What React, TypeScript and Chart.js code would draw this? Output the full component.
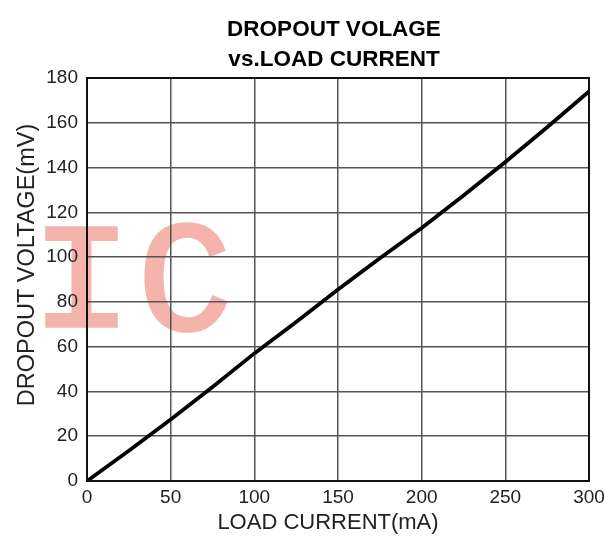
import React, { useEffect, useRef } from "react";
import { Chart, registerables } from "chart.js";

Chart.register(...registerables);

const TITLE_LINES = ["DROPOUT VOLAGE", "vs.LOAD CURRENT"];
const X_TITLE = "LOAD CURRENT(mA)";
const Y_TITLE = "DROPOUT VOLTAGE(mV)";
const WATERMARK_LETTERS = ["I", "C"];

const loadCurrent = [0, 25, 50, 75, 100, 125, 150, 175, 200, 225, 250, 275, 300];
const dropoutVoltage = [0, 13.5, 27.5, 42, 57, 71, 85.5, 99.5, 113, 127.5, 142.5, 158, 174];

const X_MIN = 0;
const X_MAX = 300;
const X_STEP = 50;
const Y_MIN = 0;
const Y_MAX = 180;
const Y_STEP = 20;

const FONT = "'Liberation Sans', Arial, sans-serif";

export default function App() {
  const ref = useRef<HTMLCanvasElement | null>(null);

  useEffect(() => {
    if (!ref.current) return;

    const decor = {
      id: "decor",
      beforeDraw(chart: any) {
        const ctx = chart.ctx;
        ctx.save();
        ctx.fillStyle = "#f4b3ab";
        ctx.strokeStyle = "#f4b3ab";
        ctx.lineWidth = 3.5;
        ctx.textAlign = "center";
        ctx.textBaseline = "alphabetic";
        ctx.save();
        ctx.translate(81.5, 326);
        ctx.scale(1.15, 1);
        ctx.font = "148px 'Liberation Mono', monospace";
        ctx.fillText(WATERMARK_LETTERS[0], 0, 0);
        ctx.strokeText(WATERMARK_LETTERS[0], 0, 0);
        ctx.restore();
        ctx.font = "158px 'Liberation Mono', monospace";
        ctx.fillText(WATERMARK_LETTERS[1], 185, 329);
        ctx.strokeText(WATERMARK_LETTERS[1], 185, 329);
        ctx.restore();
      },
      afterDraw(chart: any) {
        const ctx = chart.ctx;
        const a = chart.chartArea;
        ctx.save();
        ctx.strokeStyle = "#111";
        ctx.lineWidth = 2;
        ctx.strokeRect(a.left, a.top, a.right - a.left, a.bottom - a.top);
        ctx.fillStyle = "#000";
        ctx.textAlign = "center";
        ctx.textBaseline = "middle";
        ctx.font = `bold 22.5px ${FONT}`;
        ctx.fillText(TITLE_LINES[0], 334, 30);
        ctx.fillText(TITLE_LINES[1], 334, 60);
        ctx.fillStyle = "#222";
        ctx.font = `22px ${FONT}`;
        ctx.fillText(X_TITLE, 328, 523);
        ctx.translate(28, 265);
        ctx.rotate(-Math.PI / 2);
        ctx.font = `23.5px ${FONT}`;
        ctx.fillText(Y_TITLE, 0, 0);
        ctx.restore();
      },
    };

    const chart = new Chart(ref.current, {
      type: "line",
      data: {
        datasets: [
          {
            data: loadCurrent.map((x, i) => ({ x, y: dropoutVoltage[i] })),
            borderColor: "#000",
            borderWidth: 3.8,
            pointRadius: 0,
            tension: 0,
            fill: false,
          },
        ],
      },
      options: {
        responsive: false,
        animation: false,
        layout: { padding: { top: 78, left: 0, right: 0, bottom: 0 } },
        plugins: {
          legend: { display: false },
          title: { display: false },
          tooltip: { enabled: false },
        },
        scales: {
          x: {
            type: "linear",
            min: X_MIN,
            max: X_MAX,
            ticks: {
              stepSize: X_STEP,
              padding: 5,
              color: "#222",
              font: { family: FONT, size: 19 },
              maxRotation: 0,
            },
            grid: { color: "#555", lineWidth: 1.5, drawTicks: false },
            border: { color: "#111", width: 2 },
            afterFit(s: any) {
              s.height = 59;
              s.paddingLeft = 0;
              s.paddingRight = 15;
              s.paddingTop = 0;
              s.paddingBottom = 0;
            },
          },
          y: {
            type: "linear",
            min: Y_MIN,
            max: Y_MAX,
            ticks: {
              stepSize: Y_STEP,
              padding: 9,
              color: "#222",
              font: { family: FONT, size: 19 },
            },
            grid: { color: "#555", lineWidth: 1.5, drawTicks: false },
            border: { color: "#111", width: 2 },
            afterFit(s: any) {
              s.width = 87;
              s.paddingTop = 0;
              s.paddingBottom = 0;
              s.paddingLeft = 0;
              s.paddingRight = 0;
            },
          },
        },
      },
      plugins: [decor],
    });

    return () => chart.destroy();
  }, []);

  return (
    <div style={{ position: "absolute", left: 0, top: 0, width: 604, height: 540, background: "#fff" }}>
      <canvas ref={ref} width={604} height={540} style={{ display: "block" }} />
    </div>
  );
}
